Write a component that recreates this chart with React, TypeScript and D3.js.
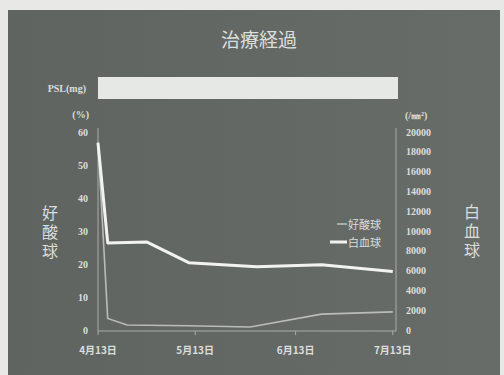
import React from "react";
import * as d3 from "d3";

const title = "治療経過";
const wbcDates = ["2000-04-13", "2000-04-16", "2000-04-28", "2000-05-11", "2000-06-01", "2000-06-21", "2000-07-13"];
const wbcValues = [18900, 8800, 8900, 6800, 6400, 6600, 5900];
const eosDates = ["2000-04-13", "2000-04-16", "2000-04-22", "2000-05-11", "2000-05-30", "2000-06-21", "2000-07-13"];
const eosValues = [57, 3.5, 1.5, 1.3, 0.9, 4.8, 5.5];
const xTickDates = ["2000-04-13", "2000-05-13", "2000-06-13", "2000-07-13"];
const xTickLabels = ["4月13日", "5月13日", "6月13日", "7月13日"];
const leftTicks = [0, 10, 20, 30, 40, 50, 60];
const rightTicks = [0, 2000, 4000, 6000, 8000, 10000, 12000, 14000, 16000, 18000, 20000];
const leftTitle = "好酸球";
const rightTitle = "白血球";
const legendLabels = ["好酸球", "白血球"];

const parse = d3.timeParse("%Y-%m-%d");
const CJK = "'Noto Sans CJK JP', sans-serif";
const NUM = "'Liberation Serif', 'DejaVu Serif', serif";

export default function App() {
  const x = d3.scaleTime()
    .domain([parse("2000-04-13")!, parse("2000-07-14")!])
    .range([98, 396]);
  const yL = d3.scaleLinear().domain([0, 60]).range([330, 132]);
  const yR = d3.scaleLinear().domain([0, 20000]).range([330, 132]);

  const wbc = wbcDates.map((d, i) => ({ d: parse(d)!, v: wbcValues[i] }));
  const eos = eosDates.map((d, i) => ({ d: parse(d)!, v: eosValues[i] }));
  const wbcLine = d3.line<{ d: Date; v: number }>().x(p => x(p.d)).y(p => yR(p.v));
  const eosLine = d3.line<{ d: Date; v: number }>().x(p => x(p.d)).y(p => yL(p.v));

  const txt = "#dcdedc";
  return (
    <svg width={504} height={375} style={{ position: "absolute", left: 0, top: 0 }}>
      <defs>
        <linearGradient id="bg" x1="0" x2="1" y1="0" y2="0">
          <stop offset="0" stopColor="#5f6461" />
          <stop offset="1" stopColor="#686c69" />
        </linearGradient>
      </defs>
      <rect x={0} y={0} width={504} height={375} fill="#e8e8e6" />
      <rect x={8} y={10} width={492} height={365} fill="url(#bg)" />
      <text x={259} y={38} textAnchor="middle" dominantBaseline="central" fontFamily={CJK} fontSize={19} fill={txt}>{title}</text>

      <text x={86} y={88} textAnchor="end" dominantBaseline="central" fontFamily={NUM} fontSize={10} fontWeight="bold" fill={txt}>PSL(mg)</text>
      <rect x={98} y={77} width={300} height={22} fill="#e6e8e6" />

      <text x={89} y={114} textAnchor="end" dominantBaseline="central" fontFamily={NUM} fontSize={10} fontWeight="bold" fill={txt}>(%)</text>
      <text x={405} y={115} textAnchor="start" dominantBaseline="central" fontFamily={NUM} fontSize={10} fontWeight="bold" fill={txt}>(/㎜²)</text>

      {leftTicks.map(t => (
        <text key={"l" + t} x={88} y={yL(t)} textAnchor="end" dominantBaseline="central" fontFamily={NUM} fontSize={10} fontWeight="bold" fill={txt}>{t}</text>
      ))}
      {rightTicks.map(t => (
        <text key={"r" + t} x={406} y={yR(t)} textAnchor="start" dominantBaseline="central" fontFamily={NUM} fontSize={10} fontWeight="bold" fill={txt}>{t}</text>
      ))}

      <line x1={98} x2={98} y1={128} y2={331} stroke="#a9aca9" strokeWidth={1} />
      <line x1={396} x2={396} y1={128} y2={331} stroke="#a9aca9" strokeWidth={1} />
      <line x1={98} x2={396} y1={331} y2={331} stroke="#a9aca9" strokeWidth={1} />
      {xTickDates.map((d, i) => (
        <g key={d}>
          <line x1={x(parse(d)!)} x2={x(parse(d)!)} y1={331} y2={335} stroke="#a9aca9" />
          <text x={x(parse(d)!)} y={349} textAnchor="middle" dominantBaseline="central" fontFamily={CJK} fontSize={10} fontWeight="bold" fill={txt}>{xTickLabels[i]}</text>
        </g>
      ))}

      <path d={eosLine(eos)!} fill="none" stroke="#b9bcb9" strokeWidth={1.6} />
      <path d={wbcLine(wbc)!} fill="none" stroke="#f2f3f1" strokeWidth={3} strokeLinejoin="round" />

      <line x1={337} x2={347} y1={224} y2={224} stroke="#b9bcb9" strokeWidth={1.6} />
      <text x={348} y={224} dominantBaseline="central" fontFamily={CJK} fontSize={11} fill={txt}>{legendLabels[0]}</text>
      <line x1={330} x2={347} y1={242} y2={242} stroke="#f2f3f1" strokeWidth={3} />
      <text x={348} y={242} dominantBaseline="central" fontFamily={CJK} fontSize={11} fill={txt}>{legendLabels[1]}</text>

      <text x={50} y={205} fontFamily={CJK} fontSize={16} letterSpacing={3} fill={txt} style={{ writingMode: "vertical-rl" }}>{leftTitle}</text>
      <text x={472} y={204} fontFamily={CJK} fontSize={16} letterSpacing={3} fill={txt} style={{ writingMode: "vertical-rl" }}>{rightTitle}</text>
    </svg>
  );
}
